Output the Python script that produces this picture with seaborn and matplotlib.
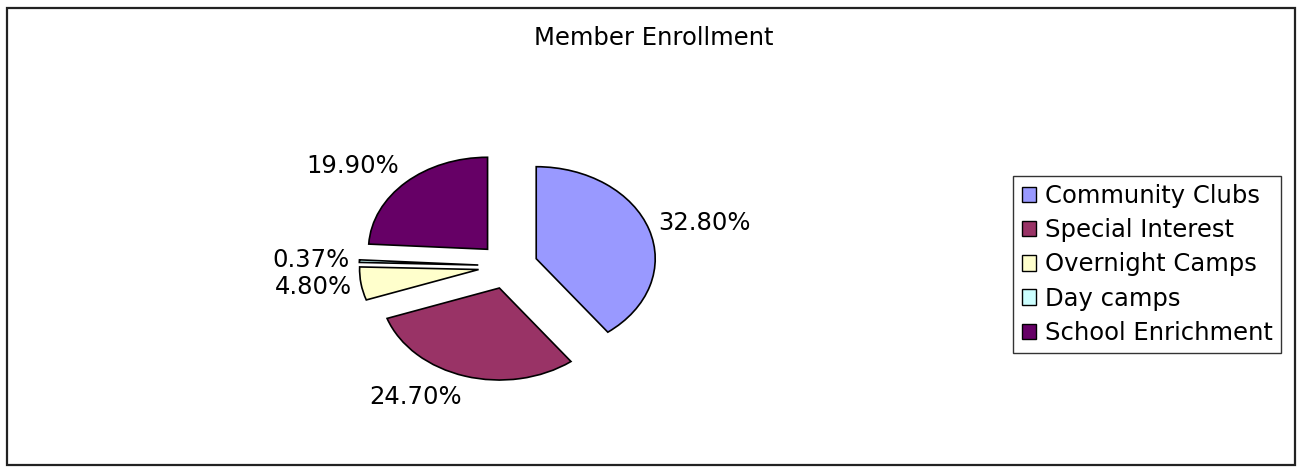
import matplotlib
matplotlib.use("Agg")
import matplotlib.pyplot as plt
from matplotlib.patches import Rectangle
import seaborn as sns

title = "Member Enrollment"
categories = ["Community Clubs", "Special Interest", "Overnight Camps", "Day camps", "School Enrichment"]
values = [32.80, 24.70, 4.80, 0.37, 19.90]
value_labels = ["32.80%", "24.70%", "4.80%", "0.37%", "19.90%"]
colors = ["#9999FF", "#993366", "#FFFFCC", "#CCFFFF", "#660066"]

sns.set_theme(style="white")
plt.rcParams["font.family"] = ["DejaVu Sans"]
plt.rcParams["text.color"] = "black"

W, H = 1297, 467
fig = plt.figure(figsize=(W / 100, H / 100), dpi=100)
fig.patch.set_facecolor("white")

# pie axes centred at pixel (508, 266), stretched ellipse rx=119 px, ry=92 px
cx, cy = 508, 266
rx, ry = 119, 92
aw, ah = 600, 380
ax = fig.add_axes([(cx - aw / 2) / W, (H - cy - ah / 2) / H, aw / W, ah / H])

palette = sns.color_palette(colors)
wedges, texts = ax.pie(
    values,
    labels=value_labels,
    colors=palette,
    startangle=90,
    counterclock=False,
    explode=[0.25] * len(values),
    labeldistance=1.08,
    wedgeprops=dict(edgecolor="black", linewidth=1.2),
    textprops=dict(fontsize=17.5, color="black"),
)
for t in texts:
    x, y = t.get_position()
    t.set_position((x, y * 1.12))

ax.set_aspect("auto")
ax.set_xlim(-aw / 2 / rx, aw / 2 / rx)
ax.set_ylim(-ah / 2 / ry, ah / 2 / ry)
ax.axis("off")

fig.text(0.504, 1 - 38 / H, title, ha="center", va="center", fontsize=17.5, color="black")

leg = fig.legend(
    wedges, categories,
    loc="center left",
    bbox_to_anchor=(1013 / W, 1 - 264.5 / H),
    borderaxespad=0,
    frameon=True,
    fancybox=False,
    shadow=False,
    fontsize=17.5,
    labelcolor="black",
    handlelength=0.6,
    handleheight=0.6,
    handletextpad=0.35,
    labelspacing=0.42,
    borderpad=0.35,
)
leg.get_frame().set_edgecolor("black")
leg.get_frame().set_linewidth(1.0)
for h in leg.legend_handles:
    h.set_edgecolor("black")
    h.set_linewidth(1.0)

fig.patches.append(Rectangle((7 / W, 2 / H), 1288 / W, 457 / H, transform=fig.transFigure,
                             fill=False, edgecolor="#222222", linewidth=1.6))

fig.savefig("out.png", dpi=100, facecolor="white")
